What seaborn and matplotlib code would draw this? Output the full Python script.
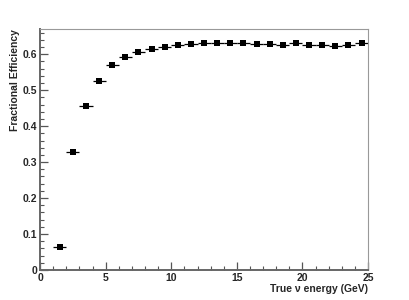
import numpy as np
import pandas as pd
import matplotlib
matplotlib.use("Agg")
import matplotlib.pyplot as plt
import seaborn as sns
from matplotlib.ticker import MultipleLocator, FuncFormatter

# bin centres (GeV) and efficiency
energy = [1.5, 2.5, 3.5, 4.5, 5.5, 6.5, 7.5, 8.5, 9.5, 10.5, 11.5, 12.5,
          13.5, 14.5, 15.5, 16.5, 17.5, 18.5, 19.5, 20.5, 21.5, 22.5, 23.5, 24.5]
efficiency = [0.063, 0.327, 0.457, 0.526, 0.571, 0.591, 0.605, 0.615, 0.621,
              0.626, 0.628, 0.630, 0.631, 0.632, 0.630, 0.629, 0.628, 0.627,
              0.630, 0.627, 0.627, 0.624, 0.627, 0.632]
bin_half = [0.5] * len(energy)

df = pd.DataFrame({"energy": energy, "eff": efficiency, "xerr": bin_half})

sns.set_style("ticks")
plt.rcParams["font.family"] = ["Liberation Sans", "DejaVu Sans"]

fig = plt.figure(figsize=(4.09, 3.0), dpi=100)
ax = fig.add_axes([0.098, 0.1, 0.802, 0.802])

ax.errorbar(df["energy"], df["eff"], xerr=df["xerr"], fmt="none",
            ecolor="black", elinewidth=0.9, capsize=0)
sns.scatterplot(data=df, x="energy", y="eff", marker="s", s=14,
                color="black", edgecolor="black", linewidth=0, ax=ax, zorder=3)

ax.set_xlim(0, 25)
ax.set_ylim(0, 0.669)

ax.xaxis.set_major_locator(MultipleLocator(5))
ax.xaxis.set_minor_locator(MultipleLocator(1))
ax.yaxis.set_major_locator(MultipleLocator(0.1))
ax.yaxis.set_minor_locator(MultipleLocator(0.02))
ax.yaxis.set_major_formatter(FuncFormatter(lambda v, p: "0" if abs(v) < 1e-9 else f"{v:.1f}"))

ax.tick_params(which="both", direction="in", color="#555555")
ax.tick_params(which="major", length=6, width=0.9, labelsize=7.5, pad=2)
ax.tick_params(which="minor", length=3, width=0.8)
for lab in ax.get_xticklabels() + ax.get_yticklabels():
    lab.set_fontweight("bold")

for side in ["left", "bottom"]:
    ax.spines[side].set_color("#666666")
    ax.spines[side].set_linewidth(1.4)
for side in ["top", "right"]:
    ax.spines[side].set_visible(True)
    ax.spines[side].set_color("#999999")
    ax.spines[side].set_linewidth(0.8)

ax.set_xlabel("True \u03bd energy (GeV)", fontsize=7.5, fontweight="bold",
              loc="right", labelpad=1)
ax.set_ylabel("Fractional Efficiency", fontsize=7.5, fontweight="bold",
              loc="top", labelpad=2)

fig.savefig("out.png", dpi=100)
